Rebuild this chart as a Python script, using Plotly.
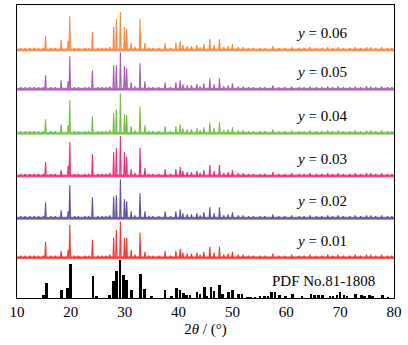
import plotly.graph_objects as go

# ---- data ----
series_names = ["y = 0.01", "y = 0.02", "y = 0.03", "y = 0.04", "y = 0.05", "y = 0.06"]
series_colors = ["#EE3A33", "#5B4EA4", "#EC2D7C", "#72C043", "#A65BB0", "#F6883F"]
series_offsets = [40.3, 79.7, 122.0, 164.7, 208.7, 248.0]

major_pos = [15.3, 18.2, 19.5, 19.8, 24.0, 27.95, 28.45, 29.2, 29.95, 30.36, 31.2, 32.85, 33.75]
heights_001 = [16, 7, 8, 33, 18, 20, 28, 36, 20, 20, 8, 25, 6]
heights_002 = [16, 8, 7, 33, 21, 22, 23, 39, 19, 17, 7, 25, 7]
heights_003 = [14, 6, 10, 34, 22, 24, 28, 40, 24, 19, 7, 28, 8]
heights_004 = [14, 9, 8, 33, 17, 20, 24, 40, 19, 18, 7, 27, 8]
heights_005 = [14, 9, 8, 33, 19, 24, 24, 37, 23, 21, 7, 26, 8]
heights_006 = [14, 10, 9, 34, 18, 23, 31, 38, 23, 21, 7, 31, 7]
major_heights = [heights_001, heights_002, heights_003, heights_004, heights_005, heights_006]

minor_pos = [10.7, 11.5, 12.4, 13.2, 14.0, 14.9, 16.3, 17.1, 20.7, 21.4, 22.6, 23.3,
             25.0, 25.8, 26.5, 27.2, 31.9, 34.5, 35.2, 36.3, 37.5, 38.5, 39.5, 40.3,
             40.8, 41.6, 42.4, 43.4, 44.0, 44.7, 45.8, 46.6, 47.6, 48.4, 49.2, 50.0,
             51.1, 52.0, 53.0, 53.9, 55.1, 56.0, 57.5, 58.6, 59.7, 61.0, 62.4, 63.3,
             64.4, 65.6, 66.6, 67.7, 68.6, 69.6, 70.6, 71.8, 72.8, 73.8, 74.9, 75.7,
             76.6, 77.7, 78.8, 79.6]
minor_heights = [2, 2, 2, 2, 2, 2, 2, 2, 2, 2, 2, 2,
                 2, 2, 2, 3, 3, 2, 2, 2, 7, 2, 7, 9,
                 5, 4, 4, 5, 3, 6, 11, 5, 11, 3, 4, 6,
                 3, 3, 2, 2, 2, 2, 4, 2, 2, 3, 2, 2,
                 3, 2, 2, 3, 2, 3, 2, 2, 3, 2, 3, 3,
                 2, 3, 2, 2]

pdf_pos = [14.9, 15.5, 18.3, 19.35, 19.9, 24.1, 24.8, 27.2, 27.95, 28.45, 29.15, 29.75,
           30.3, 31.3, 32.95, 33.7, 35.0, 37.5, 38.7, 39.6, 40.25, 40.85, 41.5, 42.1,
           43.4, 44.0, 44.75, 45.2, 46.0, 46.6, 47.6, 48.2, 49.3, 50.0, 51.1, 51.8,
           52.8, 53.4, 54.2, 55.1, 55.9, 56.6, 57.3, 57.9, 58.8, 59.8, 61.2, 62.9,
           64.6, 65.2, 66.0, 66.7, 68.1, 68.7, 69.4, 70.0, 70.7, 71.3, 72.8, 74.0,
           74.5, 75.5, 76.0, 77.9, 78.9]
pdf_heights = [3, 15, 8, 10, 34, 22, 2, 3, 17, 27, 38, 23,
               18, 8, 24, 9, 2, 8, 2, 10, 8, 5, 3, 3,
               6, 4, 11, 2, 11, 7, 13, 4, 6, 8, 4, 4,
               1, 1, 1, 2, 2, 2, 6, 6, 3, 2, 4, 2,
               4, 3, 3, 3, 2, 2, 3, 6, 3, 2, 4, 3,
               2, 3, 2, 3, 1]

x_ticks = [10, 20, 30, 40, 50, 60, 70, 80]
pdf_label = "PDF No.81-1808"

PEAK_HALF_WIDTH = 0.13
SERIF = "Liberation Serif, Times New Roman, Times, serif"

fig = go.Figure()

# PDF reference bars
fig.add_trace(go.Bar(x=pdf_pos, y=pdf_heights, width=0.5, marker=dict(color="black", line=dict(width=0)),
                     showlegend=False, hoverinfo="skip"))

for name, color, off, mh in zip(series_names, series_colors, series_offsets, major_heights):
    peaks = sorted(list(zip(major_pos, mh)) + list(zip(minor_pos, minor_heights)))
    xs = [10.0]
    ys = [off]
    for p, h in peaks:
        xs += [p - PEAK_HALF_WIDTH, p, p + PEAK_HALF_WIDTH]
        ys += [off, off + h, off]
    xs.append(80.0)
    ys.append(off)
    # background band (noise level)
    fig.add_trace(go.Scatter(x=[10, 80], y=[off, off], mode="lines",
                             line=dict(color=color, width=3), opacity=0.75,
                             showlegend=False, hoverinfo="skip"))
    fig.add_trace(go.Scatter(x=xs, y=ys, mode="lines", line=dict(color=color, width=1.1),
                             showlegend=False, name=name))
    fig.add_annotation(x=66.6, y=off + 17, text="<i>y</i> = " + name.split("= ")[1],
                       showarrow=False, font=dict(family=SERIF, size=15, color="black"),
                       xanchor="center", yanchor="middle")

fig.add_annotation(x=67.0, y=17, text=pdf_label, showarrow=False,
                   font=dict(family=SERIF, size=15, color="black"),
                   xanchor="center", yanchor="middle")

fig.update_layout(
    width=408, height=345,
    margin=dict(l=17, r=14, t=5, b=47),
    plot_bgcolor="white", paper_bgcolor="white",
    bargap=0,
    font=dict(family=SERIF, size=15, color="black"),
    xaxis=dict(range=[10, 80], tickvals=x_ticks, ticktext=[str(t) for t in x_ticks],
               showline=True, mirror=True, linecolor="black", linewidth=1.2,
               showgrid=False, zeroline=False, ticks="",
               tickfont=dict(family=SERIF, size=15),
               title=dict(text="2<i>θ</i> / (°)", font=dict(family=SERIF, size=15), standoff=4)),
    yaxis=dict(range=[0, 293], showline=True, mirror=True, linecolor="black", linewidth=1.2,
               showgrid=False, zeroline=False, showticklabels=False, ticks=""),
)

fig.write_html("out.html", config={"displayModeBar": False},
               post_script="document.body.style.margin='0';")
